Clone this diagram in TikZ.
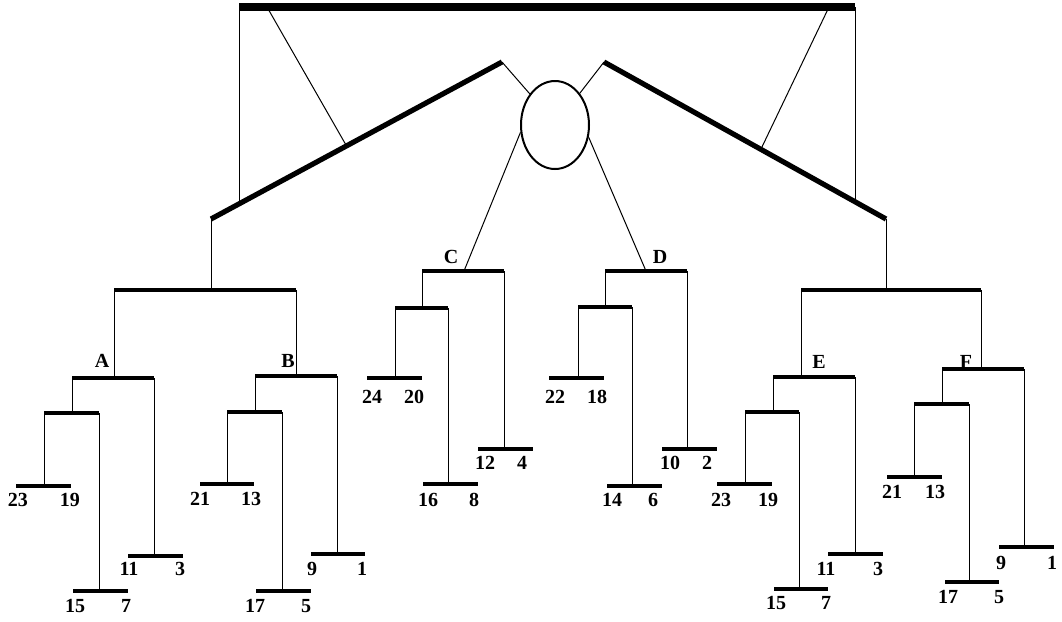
\documentclass[tikz,border=0pt]{standalone}
\usepackage{fontspec}
\setmainfont{Liberation Serif}
\usepackage{tikz}
\usetikzlibrary{shapes}
\tikzstyle{line} = [draw, line width=0.5pt]
\tikzstyle{bar} = [draw, line width=2pt]
\tikzstyle{beam} = [draw, line width=2.6pt]
\tikzstyle{topbar} = [draw, line width=4pt]
\tikzstyle{hub} = [ellipse, draw, line width=1pt, minimum width=34pt, minimum height=44pt, inner sep=0pt]
\tikzstyle{lbl} = [inner sep=0pt, font=\fontsize{10}{12}\selectfont\bfseries]

\begin{document}
\begin{tikzpicture}[x=0.5pt, y=-0.5pt]
			\useasboundingbox (0,0) rectangle (1062,622);

			% frame on top
			\coordinate (top-l) at (239,7);
			\coordinate (top-r) at (855,7);
			\coordinate (top-sl) at (267,7);
			\coordinate (top-sr) at (829,7);
			\coordinate (dl-a) at (211,219);
			\coordinate (dl-b) at (502,62);
			\coordinate (dl-v) at (239,203);
			\coordinate (dl-s) at (346,145);
			\coordinate (dr-a) at (604,62);
			\coordinate (dr-b) at (886,219);
			\coordinate (dr-v) at (855,201);
			\coordinate (dr-s) at (761,149);
			\node [hub] (hub) at (555,125) {};

			% left half
			\coordinate (L-l) at (114,290);
			\coordinate (L-r) at (296,290);
			\coordinate (L-t) at (211,290);
			\coordinate (A-l) at (72,378);
			\coordinate (A-r) at (154,378);
			\coordinate (A-t) at (114,378);
			\coordinate (A1-l) at (44,413);
			\coordinate (A1-r) at (99,413);
			\coordinate (A1-t) at (72,413);
			\coordinate (A11-l) at (16,486);
			\coordinate (A11-r) at (71,486);
			\coordinate (A11-t) at (44,486);
			\coordinate (A12-l) at (73,591);
			\coordinate (A12-r) at (128,591);
			\coordinate (A12-t) at (99,591);
			\coordinate (A2-l) at (128,556);
			\coordinate (A2-r) at (183,556);
			\coordinate (A2-t) at (154,556);
			\coordinate (B-l) at (255,376);
			\coordinate (B-r) at (337,376);
			\coordinate (B-t) at (296,376);
			\coordinate (B1-l) at (227,412);
			\coordinate (B1-r) at (282,412);
			\coordinate (B1-t) at (255,412);
			\coordinate (B11-l) at (200,484);
			\coordinate (B11-r) at (254,484);
			\coordinate (B11-t) at (227,484);
			\coordinate (B12-l) at (256,591);
			\coordinate (B12-r) at (311,591);
			\coordinate (B12-t) at (282,591);
			\coordinate (B2-l) at (311,554);
			\coordinate (B2-r) at (365,554);
			\coordinate (B2-t) at (337,554);

			% middle
			\coordinate (C-l) at (422,271);
			\coordinate (C-r) at (504,271);
			\coordinate (C-t) at (464,271);
			\coordinate (C1-l) at (395,308);
			\coordinate (C1-r) at (448,308);
			\coordinate (C1-t) at (422,308);
			\coordinate (C11-l) at (367,378);
			\coordinate (C11-r) at (422,378);
			\coordinate (C11-t) at (395,378);
			\coordinate (C12-l) at (423,484);
			\coordinate (C12-r) at (478,484);
			\coordinate (C12-t) at (448,484);
			\coordinate (C2-l) at (478,449);
			\coordinate (C2-r) at (533,449);
			\coordinate (C2-t) at (504,449);
			\coordinate (D-l) at (605,271);
			\coordinate (D-r) at (687,271);
			\coordinate (D-t) at (646,271);
			\coordinate (D1-l) at (578,307);
			\coordinate (D1-r) at (632,307);
			\coordinate (D1-t) at (605,307);
			\coordinate (D11-l) at (549,378);
			\coordinate (D11-r) at (604,378);
			\coordinate (D11-t) at (578,378);
			\coordinate (D12-l) at (607,486);
			\coordinate (D12-r) at (662,486);
			\coordinate (D12-t) at (632,486);
			\coordinate (D2-l) at (662,449);
			\coordinate (D2-r) at (717,449);
			\coordinate (D2-t) at (687,449);

			% right half
			\coordinate (R-l) at (801,290);
			\coordinate (R-r) at (981,290);
			\coordinate (R-t) at (886,290);
			\coordinate (E-l) at (773,377);
			\coordinate (E-r) at (855,377);
			\coordinate (E-t) at (801,377);
			\coordinate (E1-l) at (745,412);
			\coordinate (E1-r) at (799,412);
			\coordinate (E1-t) at (773,412);
			\coordinate (E11-l) at (717,484);
			\coordinate (E11-r) at (772,484);
			\coordinate (E11-t) at (745,484);
			\coordinate (E12-l) at (774,589);
			\coordinate (E12-r) at (828,589);
			\coordinate (E12-t) at (799,589);
			\coordinate (E2-l) at (828,554);
			\coordinate (E2-r) at (883,554);
			\coordinate (E2-t) at (855,554);
			\coordinate (F-l) at (942,369);
			\coordinate (F-r) at (1024,369);
			\coordinate (F-t) at (981,369);
			\coordinate (F1-l) at (914,404);
			\coordinate (F1-r) at (969,404);
			\coordinate (F1-t) at (942,404);
			\coordinate (F11-l) at (887,477);
			\coordinate (F11-r) at (942,477);
			\coordinate (F11-t) at (914,477);
			\coordinate (F12-l) at (945,582);
			\coordinate (F12-r) at (999,582);
			\coordinate (F12-t) at (969,582);
			\coordinate (F2-l) at (999,547);
			\coordinate (F2-r) at (1054,547);
			\coordinate (F2-t) at (1024,547);

			% labels
			\node [lbl] (lA) at (102,361) {A};
			\node [lbl] (lB) at (288,361) {B};
			\node [lbl] (lC) at (451,257) {C};
			\node [lbl] (lD) at (660,257) {D};
			\node [lbl] (lE) at (819,362) {E};
			\node [lbl] (lF) at (966,362) {F};
			\node [lbl] (a23) at (18,500) {23};
			\node [lbl] (a19) at (70,500) {19};
			\node [lbl] (a15) at (75,606) {15};
			\node [lbl] (a7) at (126,606) {7};
			\node [lbl] (a11) at (129,569) {11};
			\node [lbl] (a3) at (180,569) {3};
			\node [lbl] (b21) at (200,499) {21};
			\node [lbl] (b13) at (251,499) {13};
			\node [lbl] (b17) at (255,606) {17};
			\node [lbl] (b5) at (306,606) {5};
			\node [lbl] (b9) at (312,569) {9};
			\node [lbl] (b1) at (362,569) {1};
			\node [lbl] (c24) at (372,397) {24};
			\node [lbl] (c20) at (414,397) {20};
			\node [lbl] (c16) at (428,500) {16};
			\node [lbl] (c8) at (474,500) {8};
			\node [lbl] (c12) at (485,463) {12};
			\node [lbl] (c4) at (522,463) {4};
			\node [lbl] (d22) at (555,397) {22};
			\node [lbl] (d18) at (597,397) {18};
			\node [lbl] (d14) at (612,500) {14};
			\node [lbl] (d6) at (653,500) {6};
			\node [lbl] (d10) at (670,463) {10};
			\node [lbl] (d2) at (707,463) {2};
			\node [lbl] (e23) at (721,500) {23};
			\node [lbl] (e19) at (768,500) {19};
			\node [lbl] (e15) at (776,603) {15};
			\node [lbl] (e7) at (826,603) {7};
			\node [lbl] (e11) at (826,569) {11};
			\node [lbl] (e3) at (878,569) {3};
			\node [lbl] (f21) at (892,492) {21};
			\node [lbl] (f13) at (935,492) {13};
			\node [lbl] (f17) at (948,597) {17};
			\node [lbl] (f5) at (999,597) {5};
			\node [lbl] (f9) at (1001,563) {9};
			\node [lbl] (f1) at (1052,563) {1};

			% thin links
			\path [line] (top-l) -- (dl-v);
			\path [line] (top-r) -- (dr-v);
			\path [line] (top-sl) -- (dl-s);
			\path [line] (top-sr) -- (dr-s);
			\path [line] (dl-b) -- (hub.129);
			\path [line] (dr-a) -- (hub.52);
			\path [line] (hub.192) -- (C-t);
			\path [line] (hub.340) -- (D-t);
			\path [line] (dl-a) -- (L-t);
			\path [line] (dr-b) -- (R-t);
			\path [line] (L-l) -- (A-t);
			\path [line] (L-r) -- (B-t);
			\path [line] (R-l) -- (E-t);
			\path [line] (R-r) -- (F-t);
			\path [line] (A-l) -- (A1-t);
			\path [line] (A-r) -- (A2-t);
			\path [line] (A1-l) -- (A11-t);
			\path [line] (A1-r) -- (A12-t);
			\path [line] (B-l) -- (B1-t);
			\path [line] (B-r) -- (B2-t);
			\path [line] (B1-l) -- (B11-t);
			\path [line] (B1-r) -- (B12-t);
			\path [line] (C-l) -- (C1-t);
			\path [line] (C-r) -- (C2-t);
			\path [line] (C1-l) -- (C11-t);
			\path [line] (C1-r) -- (C12-t);
			\path [line] (D-l) -- (D1-t);
			\path [line] (D-r) -- (D2-t);
			\path [line] (D1-l) -- (D11-t);
			\path [line] (D1-r) -- (D12-t);
			\path [line] (E-l) -- (E1-t);
			\path [line] (E-r) -- (E2-t);
			\path [line] (E1-l) -- (E11-t);
			\path [line] (E1-r) -- (E12-t);
			\path [line] (F-l) -- (F1-t);
			\path [line] (F-r) -- (F2-t);
			\path [line] (F1-l) -- (F11-t);
			\path [line] (F1-r) -- (F12-t);

			% thick bars
			\path [topbar] (top-l) -- (top-r);
			\path [beam] (dl-a) -- (dl-b);
			\path [beam] (dr-a) -- (dr-b);
			\path [bar] (L-l) -- (L-r);
			\path [bar] (R-l) -- (R-r);
			\path [bar] (A-l) -- (A-r);
			\path [bar] (A1-l) -- (A1-r);
			\path [bar] (A11-l) -- (A11-r);
			\path [bar] (A12-l) -- (A12-r);
			\path [bar] (A2-l) -- (A2-r);
			\path [bar] (B-l) -- (B-r);
			\path [bar] (B1-l) -- (B1-r);
			\path [bar] (B11-l) -- (B11-r);
			\path [bar] (B12-l) -- (B12-r);
			\path [bar] (B2-l) -- (B2-r);
			\path [bar] (C-l) -- (C-r);
			\path [bar] (C1-l) -- (C1-r);
			\path [bar] (C11-l) -- (C11-r);
			\path [bar] (C12-l) -- (C12-r);
			\path [bar] (C2-l) -- (C2-r);
			\path [bar] (D-l) -- (D-r);
			\path [bar] (D1-l) -- (D1-r);
			\path [bar] (D11-l) -- (D11-r);
			\path [bar] (D12-l) -- (D12-r);
			\path [bar] (D2-l) -- (D2-r);
			\path [bar] (E-l) -- (E-r);
			\path [bar] (E1-l) -- (E1-r);
			\path [bar] (E11-l) -- (E11-r);
			\path [bar] (E12-l) -- (E12-r);
			\path [bar] (E2-l) -- (E2-r);
			\path [bar] (F-l) -- (F-r);
			\path [bar] (F1-l) -- (F1-r);
			\path [bar] (F11-l) -- (F11-r);
			\path [bar] (F12-l) -- (F12-r);
			\path [bar] (F2-l) -- (F2-r);
		\end{tikzpicture}
\end{document}
